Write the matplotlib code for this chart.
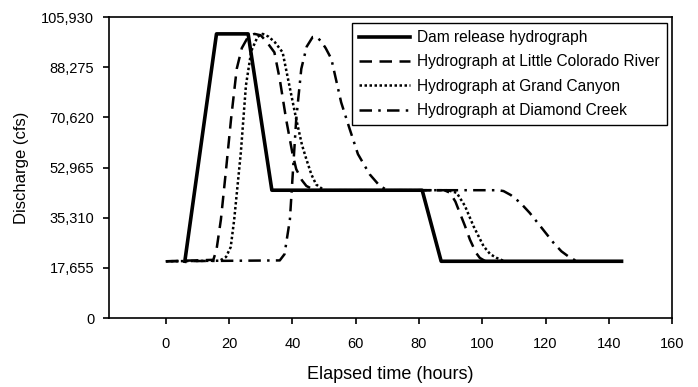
import matplotlib
matplotlib.use("Agg")
import matplotlib.pyplot as plt
from matplotlib.ticker import FixedLocator, FuncFormatter

plt.rcParams['font.family'] = ['Liberation Sans', 'DejaVu Sans']

# dam release hydrograph (hours, cfs)
dam_t = [6, 16, 26, 33.5, 81, 87, 144]
dam_q = [20000, 100000, 100000, 45000, 45000, 20000, 20000]

# little colorado river
lcr_t = [0, 15, 16, 17.4, 19, 20.6, 22.4, 24, 26, 28, 30, 32, 34.3, 36, 38, 40, 41.2, 43, 44.4, 47,
         88, 89.8, 91.5, 92.9, 94.5, 96.1, 98, 99.2, 101, 144]
lcr_q = [20000, 20500, 24000, 34700, 52000, 70000, 87700, 95000, 99000, 100000, 99500, 97000, 93500,
         84000, 70000, 58000, 52400, 48500, 46500, 45000,
         45000, 44100, 41000, 37000, 32500, 27600, 23000, 21200, 20000, 20000]

# grand canyon
gc_t = [0, 17, 19, 20.5, 21.6, 23.7, 25.3, 27, 29, 30.6, 32.5, 34.5, 36.9, 39, 41.2, 43, 44.4, 46, 47.5, 50,
        89, 91.9, 94.5, 97.2, 100.4, 102.5, 104.5, 107, 144]
gc_q = [20000, 20200, 21500, 25000, 34700, 58300, 81800, 94000, 99000, 100000, 99000, 97000, 93500,
        82000, 70000, 61000, 55900, 50500, 47000, 45000,
        45000, 44100, 39500, 32400, 25300, 22500, 21200, 20000, 20000]

# diamond creek
dc_t = [0, 36, 37.5, 39.2, 40.2, 41.2, 42.8, 44.5, 46.4, 47.5, 49, 50.5, 52.3, 55.4, 58.1, 60.7, 64.4,
        67.6, 70, 105, 106.7, 109, 112, 115, 118.3, 122.5, 125, 127.8, 130, 144]
dc_q = [20000, 20300, 22500, 34700, 52400, 70000, 87700, 95500, 98900, 99000, 97500, 95000, 91200,
        75900, 66500, 57700, 50600, 46500, 45000, 45000, 44700, 43300, 40600, 37000, 32400, 26500,
        23500, 21200, 20000, 20000]

yticks = [0, 17655, 35310, 52965, 70620, 88275, 105930]
xticks = [0, 20, 40, 60, 80, 100, 120, 140, 160]

fig = plt.figure(figsize=(6.98, 3.87), dpi=100)
ax = fig.add_axes([0.156, 0.178, 0.807, 0.778])

ax.plot(lcr_t, lcr_q, color='black', lw=1.8, ls=(0, (5, 3)), label='Hydrograph at Little Colorado River')
ax.plot(gc_t, gc_q, color='black', lw=1.8, ls=(0, (1, 1)), label='Hydrograph at Grand Canyon')
ax.plot(dc_t, dc_q, color='black', lw=1.8, ls=(0, (5, 2.5, 1, 2.5)), label='Hydrograph at Diamond Creek')
ax.plot(dam_t, dam_q, color='black', lw=2.6, label='Dam release hydrograph')

ax.set_xlim(-18, 160)
ax.set_ylim(0, 105930)
ax.xaxis.set_major_locator(FixedLocator(xticks))
ax.yaxis.set_major_locator(FixedLocator(yticks))
ax.yaxis.set_major_formatter(FuncFormatter(lambda v, p: f'{int(v):,}'))
ax.tick_params(direction='out', length=4.5, width=1.2, labelsize=10.5, pad=9)
ax.tick_params(axis='y', pad=6)
for s in ax.spines.values():
    s.set_linewidth(1.2)

ax.set_xlabel('Elapsed time (hours)', fontsize=13, labelpad=11)
ax.set_ylabel('Discharge (cfs)', fontsize=12, labelpad=9)

h, l = ax.get_legend_handles_labels()
order = [3, 0, 1, 2]
leg = ax.legend([h[i] for i in order], [l[i] for i in order], loc='upper right',
                fontsize=11.2, handlelength=3.3, fancybox=False, framealpha=1,
                borderpad=0.45, labelspacing=0.6, handletextpad=0.45,
                borderaxespad=0, bbox_to_anchor=(0.991, 0.98))
leg.get_frame().set_edgecolor('black')
leg.get_frame().set_linewidth(1.0)

fig.savefig('out.png', dpi=100)
